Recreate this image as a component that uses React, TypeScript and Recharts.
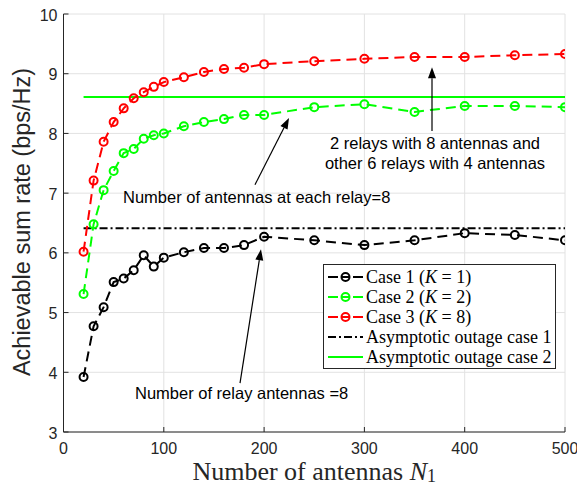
import React from "react";
import {
  ComposedChart,
  Line,
  XAxis,
  YAxis,
  CartesianGrid,
  ReferenceLine,
  ReferenceDot,
} from "recharts";

// ---- data ----
const antennas = [20, 30, 40, 50, 60, 70, 80, 90, 100, 120, 140, 160, 180, 200, 250, 300, 350, 400, 450, 500];
const case1 = [3.92, 4.77, 5.09, 5.51, 5.57, 5.71, 5.96, 5.77, 5.92, 6.01, 6.08, 6.08, 6.13, 6.27, 6.21, 6.13, 6.21, 6.33, 6.3, 6.21];
const case2 = [5.31, 6.48, 7.05, 7.37, 7.67, 7.74, 7.91, 7.97, 8.0, 8.12, 8.19, 8.24, 8.31, 8.31, 8.44, 8.49, 8.36, 8.46, 8.46, 8.44];
const case3 = [6.02, 7.21, 7.86, 8.19, 8.42, 8.59, 8.69, 8.78, 8.86, 8.94, 9.03, 9.08, 9.1, 9.16, 9.21, 9.25, 9.28, 9.28, 9.31, 9.33];
const asymptote1 = 6.41;
const asymptote2 = 8.61;
const asymStart = 20;
const asymEnd = 500;
const xTicks = [0, 100, 200, 300, 400, 500];
const yTicks = [3, 4, 5, 6, 7, 8, 9, 10];

const annotationTexts = [
  { text: "2 relays with 8 antennas and", x: 370.4, y: 7.84, anchor: "middle" },
  { text: "other 6 relays with 4 antennas", x: 370.4, y: 7.505, anchor: "middle" },
  { text: "Number of antennas at each relay=8", x: 59.3, y: 6.935, anchor: "start" },
  { text: "Number of relay antennas =8", x: 71.3, y: 3.653, anchor: "start" },
];
const arrows = [
  { from: { x: 367.4, y: 8.04 }, to: { x: 367.4, y: 9.11 } },
  { from: { x: 190.9, y: 7.14 }, to: { x: 224.8, y: 8.26 } },
  { from: { x: 176, y: 3.82 }, to: { x: 196.9, y: 6.06 } },
];

const legendItems = [
  { label: "Case 1", k: "1", color: "#000000", kind: "marker" },
  { label: "Case 2", k: "2", color: "#00ff00", kind: "marker" },
  { label: "Case 3", k: "8", color: "#ff0000", kind: "marker" },
  { label: "Asymptotic outage case 1", k: null, color: "#000000", kind: "dashdot" },
  { label: "Asymptotic outage case 2", k: null, color: "#00ff00", kind: "solid" },
];

const chartData = antennas.map((n, i) => ({ n, c1: case1[i], c2: case2[i], c3: case3[i] }));

const AXIS = "#262626";
const SANS = "'Liberation Sans', Arial, Helvetica, sans-serif";
const SERIF = "'Liberation Serif', 'Times New Roman', serif";
const DASH = "10 6";
const DASHDOT = "8 3 2 3";
const TICK_FONT = 16;

const makeDot = (color: string) => (p: any) => (
  <circle key={`d-${color}-${p.index}`} cx={p.cx} cy={p.cy} r={4} fill="none" stroke={color} strokeWidth={2} />
);

const BottomTick = (p: any) => (
  <g>
    <line x1={p.x} y1={p.y} x2={p.x} y2={p.y - 5} stroke={AXIS} strokeWidth={1} />
    <text x={p.x} y={p.y + 16} textAnchor="middle" dominantBaseline="central" fontFamily={SANS} fontSize={TICK_FONT} fill={AXIS}>
      {p.payload.value}
    </text>
  </g>
);
const TopTick = (p: any) => <line x1={p.x} y1={p.y} x2={p.x} y2={p.y + 5} stroke={AXIS} strokeWidth={1} />;
const LeftTick = (p: any) => (
  <g>
    <line x1={p.x} y1={p.y} x2={p.x + 5} y2={p.y} stroke={AXIS} strokeWidth={1} />
    <text x={p.x - 6} y={p.y + 1} textAnchor="end" dominantBaseline="central" fontFamily={SANS} fontSize={TICK_FONT} fill={AXIS}>
      {p.payload.value}
    </text>
  </g>
);
const RightTick = (p: any) => <line x1={p.x} y1={p.y} x2={p.x - 5} y2={p.y} stroke={AXIS} strokeWidth={1} />;

const ArrowShape = (p: any) => {
  const { x1, y1, x2, y2 } = p;
  const ang = Math.atan2(y2 - y1, x2 - x1);
  const L = 11;
  const W = 4;
  const bx = x2 - L * Math.cos(ang);
  const by = y2 - L * Math.sin(ang);
  const pts = `${x2},${y2} ${bx + W * Math.sin(ang)},${by - W * Math.cos(ang)} ${bx - W * Math.sin(ang)},${by + W * Math.cos(ang)}`;
  return (
    <g>
      <line x1={x1} y1={y1} x2={bx} y2={by} stroke="#000" strokeWidth={1.2} />
      <polygon points={pts} fill="#000" />
    </g>
  );
};

const makeTextShape = (text: string, anchor: string) => (p: any) => (
  <text x={p.cx} y={p.cy} textAnchor={anchor} dominantBaseline="central" fontFamily={SANS} fontSize={16.5} fill="#000">
    {text}
  </text>
);

const YLabel = () => {
  const cy = 222;
  return (
    <text x={22} y={cy} transform={`rotate(-90, 22, ${cy})`} textAnchor="middle" dominantBaseline="central" fontFamily={SANS} fontSize={23.5} fill={AXIS}>
      Achievable sum rate (bps/Hz)
    </text>
  );
};
const XLabel = (p: any) => {
  const vb = p.viewBox;
  const cx = vb.x + vb.width / 2;
  return (
    <text x={cx} y={471} textAnchor="middle" dominantBaseline="central" fontFamily={SERIF} fontSize={26} fill={AXIS}>
      Number of antennas <tspan fontStyle="italic">N</tspan>
      <tspan fontSize={18} dy={5}>1</tspan>
    </text>
  );
};

const LegendSample = ({ item }: any) => {
  if (item.kind === "marker") {
    return (
      <svg width={40} height={20} style={{ display: "block" }}>
        <line x1={4} y1={10} x2={39} y2={10} stroke={item.color} strokeWidth={2} strokeDasharray="10 4 7 4 10" />
        <circle cx={21.5} cy={10} r={4} fill="none" stroke={item.color} strokeWidth={2} />
      </svg>
    );
  }
  return (
    <svg width={40} height={20} style={{ display: "block" }}>
      <line x1={4} y1={10} x2={39} y2={10} stroke={item.color} strokeWidth={2} strokeDasharray={item.kind === "dashdot" ? DASHDOT : undefined} />
    </svg>
  );
};

const LegendBox = () => (
  <div
    style={{
      position: "absolute",
      left: 323,
      top: 264,
      width: 233,
      height: 105,
      border: `1px solid ${AXIS}`,
      background: "#fff",
      boxSizing: "border-box",
      paddingTop: 2,
    }}
  >
    {legendItems.map((it, i) => (
      <div key={i} style={{ display: "flex", alignItems: "center", height: 20, lineHeight: "20px" }}>
        <LegendSample item={it} />
        <span style={{ fontFamily: SERIF, fontSize: 18, color: "#000", whiteSpace: "nowrap", marginLeft: 2 }}>
          {it.k === null ? (
            it.label
          ) : (
            <>
              {it.label} (<i>K</i> = {it.k})
            </>
          )}
        </span>
      </div>
    ))}
  </div>
);

export default function App() {
  return (
    <div style={{ position: "absolute", left: 0, top: 0, width: 577, height: 485, background: "#fff" }}>
      <ComposedChart width={577} height={485} data={chartData} margin={{ top: 14, right: 12, bottom: 23, left: 13.5 }}>
        <CartesianGrid stroke="#e2e2e2" strokeWidth={1} />
        <XAxis
          dataKey="n"
          type="number"
          domain={[0, 500]}
          ticks={xTicks}
          allowDataOverflow
          height={30}
          tickSize={0}
          tickMargin={0}
          tickLine={false}
          tick={<BottomTick />}
          axisLine={{ stroke: AXIS, strokeWidth: 1 }}
          label={<XLabel />}
        />
        <XAxis
          xAxisId="top"
          orientation="top"
          type="number"
          domain={[0, 500]}
          ticks={xTicks}
          height={0}
          tickSize={0}
          tickMargin={0}
          tickLine={false}
          tick={<TopTick />}
          axisLine={{ stroke: AXIS, strokeWidth: 1 }}
        />
        <YAxis
          type="number"
          domain={[3, 10]}
          ticks={yTicks}
          allowDataOverflow
          width={50}
          tickSize={0}
          tickMargin={0}
          tickLine={false}
          tick={<LeftTick />}
          axisLine={{ stroke: AXIS, strokeWidth: 1 }}
          label={<YLabel />}
        />
        <YAxis
          yAxisId="right"
          orientation="right"
          type="number"
          domain={[3, 10]}
          ticks={yTicks}
          width={0}
          tickSize={0}
          tickMargin={0}
          tickLine={false}
          tick={<RightTick />}
          axisLine={{ stroke: AXIS, strokeWidth: 1 }}
        />
        <ReferenceLine
          segment={[{ x: asymStart, y: asymptote1 }, { x: asymEnd, y: asymptote1 }]}
          stroke="#000"
          strokeWidth={2}
          strokeDasharray={DASHDOT}
        />
        <ReferenceLine
          segment={[{ x: asymStart, y: asymptote2 }, { x: asymEnd, y: asymptote2 }]}
          stroke="#00ff00"
          strokeWidth={2}
        />
        <Line dataKey="c1" stroke="#000000" strokeWidth={2} strokeDasharray={DASH} dot={makeDot("#000000")} isAnimationActive={false} />
        <Line dataKey="c2" stroke="#00ff00" strokeWidth={2} strokeDasharray={DASH} dot={makeDot("#00ff00")} isAnimationActive={false} />
        <Line dataKey="c3" stroke="#ff0000" strokeWidth={2} strokeDasharray={DASH} dot={makeDot("#ff0000")} isAnimationActive={false} />
        {arrows.map((a, i) => (
          <ReferenceLine key={`arr${i}`} segment={[a.from, a.to]} shape={ArrowShape} stroke="#000" />
        ))}
        {annotationTexts.map((t, i) => (
          <ReferenceDot key={`txt${i}`} x={t.x} y={t.y} r={0} shape={makeTextShape(t.text, t.anchor)} />
        ))}
      </ComposedChart>
      <LegendBox />
    </div>
  );
}
